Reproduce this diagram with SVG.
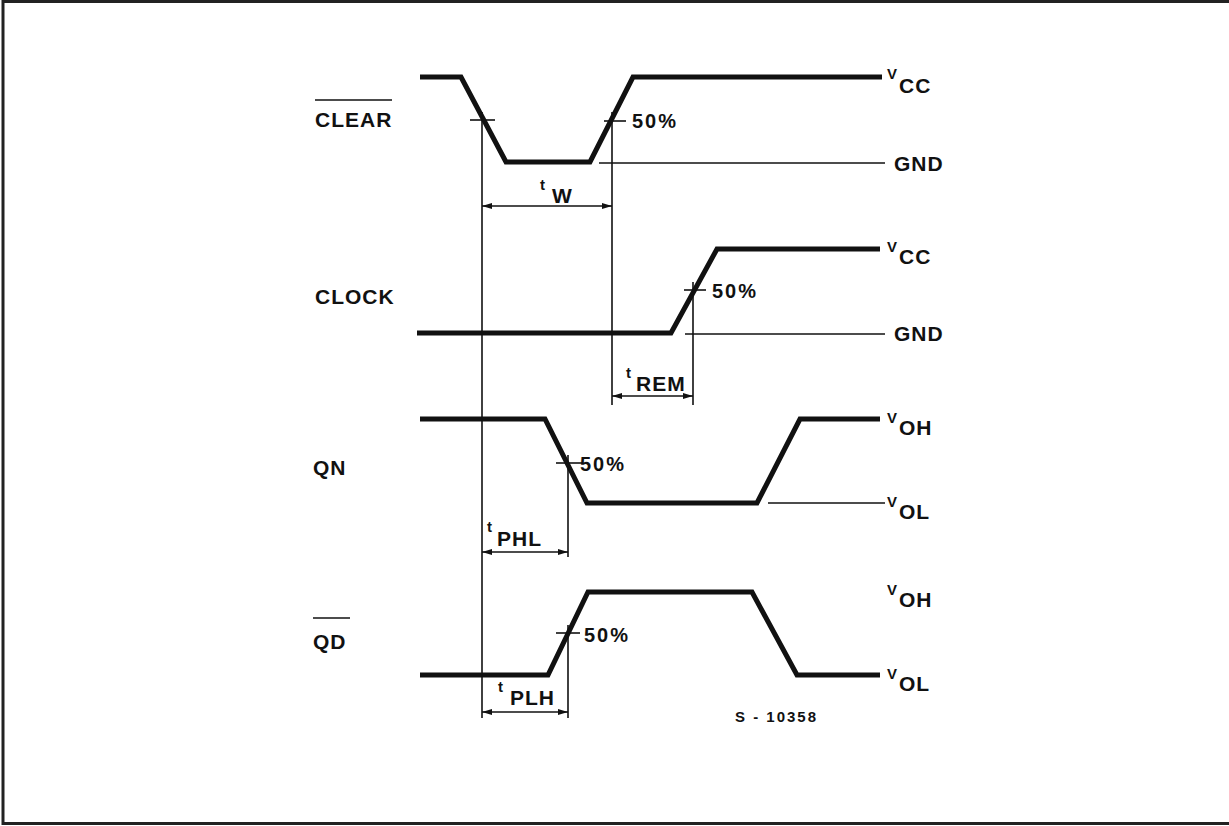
<svg xmlns="http://www.w3.org/2000/svg" width="1229" height="826" viewBox="0 0 1229 826">
<style>
.sig{fill:none;stroke:#111;stroke-width:5;stroke-linejoin:miter;stroke-linecap:butt}
.thin{fill:none;stroke:#111;stroke-width:1.6}
text{font-family:"Liberation Sans","DejaVu Sans",sans-serif;fill:#111;font-weight:bold}
.lbl{font-size:21px;letter-spacing:1px}
.big{font-size:21px;letter-spacing:1px}
.pct{font-size:20px;letter-spacing:2px}
.sm{font-size:15px}
.id{font-size:15px;letter-spacing:2px}
</style>
<defs>
<marker id="ah" viewBox="0 0 10 6" refX="10" refY="3" markerWidth="10" markerHeight="6" markerUnits="userSpaceOnUse" orient="auto-start-reverse">
<path d="M0,0 L10,3 L0,6 z" fill="#111"/>
</marker>
</defs>
<rect x="3" y="1.5" width="1240" height="822" fill="#fff" stroke="#222" stroke-width="3"/>

<g id="clear">
<text class="lbl" x="315" y="127">CLEAR</text>
<line class="thin" x1="315" y1="100" x2="392" y2="100"/>
<path class="sig" d="M420,77 L461,77 L506,162 L590,162 L633,77 L882,77"/>
<text class="sm" x="887" y="79">V</text><text class="big" x="899" y="93">CC</text>
<line class="thin" x1="599" y1="163" x2="885" y2="163"/>
<text class="big" x="894" y="171">GND</text>
<line class="thin" x1="470" y1="120" x2="495" y2="120"/>
<line class="thin" x1="604" y1="121" x2="626" y2="121"/>
<text class="pct" x="632" y="128">50%</text>
</g>

<g id="clock">
<text class="lbl" x="315" y="304">CLOCK</text>
<path class="sig" d="M417,333 L671,333 L717,249 L880,249"/>
<text class="sm" x="887" y="252">V</text><text class="big" x="899" y="264">CC</text>
<line class="thin" x1="685" y1="334" x2="885" y2="334"/>
<text class="big" x="894" y="341">GND</text>
<line class="thin" x1="684" y1="290" x2="706" y2="290"/>
<text class="pct" x="712" y="298">50%</text>
</g>

<g id="qn">
<text class="lbl" x="313" y="475">QN</text>
<path class="sig" d="M420,419 L545,419 L587,503 L757,503 L800,419 L880,419"/>
<text class="sm" x="887" y="423">V</text><text class="big" x="899" y="435">OH</text>
<line class="thin" x1="768" y1="503" x2="885" y2="503"/>
<text class="sm" x="887" y="507">V</text><text class="big" x="899" y="519">OL</text>
<line class="thin" x1="556" y1="463" x2="582" y2="463"/>
<text class="pct" x="580" y="471">50%</text>
</g>

<g id="qd">
<text class="lbl" x="313" y="649">QD</text>
<line class="thin" x1="313" y1="618" x2="350" y2="618"/>
<path class="sig" d="M420,675 L548,675 L588,592 L752,592 L797,675 L880,675"/>
<text class="sm" x="887" y="595">V</text><text class="big" x="899" y="607">OH</text>
<text class="sm" x="887" y="679">V</text><text class="big" x="899" y="691">OL</text>
<line class="thin" x1="556" y1="633" x2="580" y2="633"/>
<text class="pct" x="584" y="642">50%</text>
</g>

<g id="connectors">
<line class="thin" x1="482" y1="112" x2="482" y2="718"/>
<line class="thin" x1="612" y1="112" x2="612" y2="405"/>
<line class="thin" x1="693" y1="282" x2="693" y2="405"/>
<line class="thin" x1="568" y1="455" x2="568" y2="557"/>
<line class="thin" x1="568" y1="625" x2="568" y2="718"/>
<line class="thin" x1="482" y1="206" x2="612" y2="206" marker-start="url(#ah)" marker-end="url(#ah)"/>
<line class="thin" x1="612" y1="396" x2="693" y2="396" marker-start="url(#ah)" marker-end="url(#ah)"/>
<line class="thin" x1="482" y1="552" x2="568" y2="552" marker-start="url(#ah)" marker-end="url(#ah)"/>
<line class="thin" x1="482" y1="712" x2="568" y2="712" marker-start="url(#ah)" marker-end="url(#ah)"/>
</g>

<g id="dims">
<text class="sm" x="540" y="190">t</text><text class="big" x="552" y="203">W</text>
<text class="sm" x="626" y="378">t</text><text class="big" x="636" y="391">REM</text>
<text class="sm" x="487" y="532">t</text><text class="big" x="497" y="546">PHL</text>
<text class="sm" x="498" y="692">t</text><text class="big" x="510" y="705">PLH</text>
<text class="id" x="735" y="722">S - 10358</text>
</g>
</svg>
